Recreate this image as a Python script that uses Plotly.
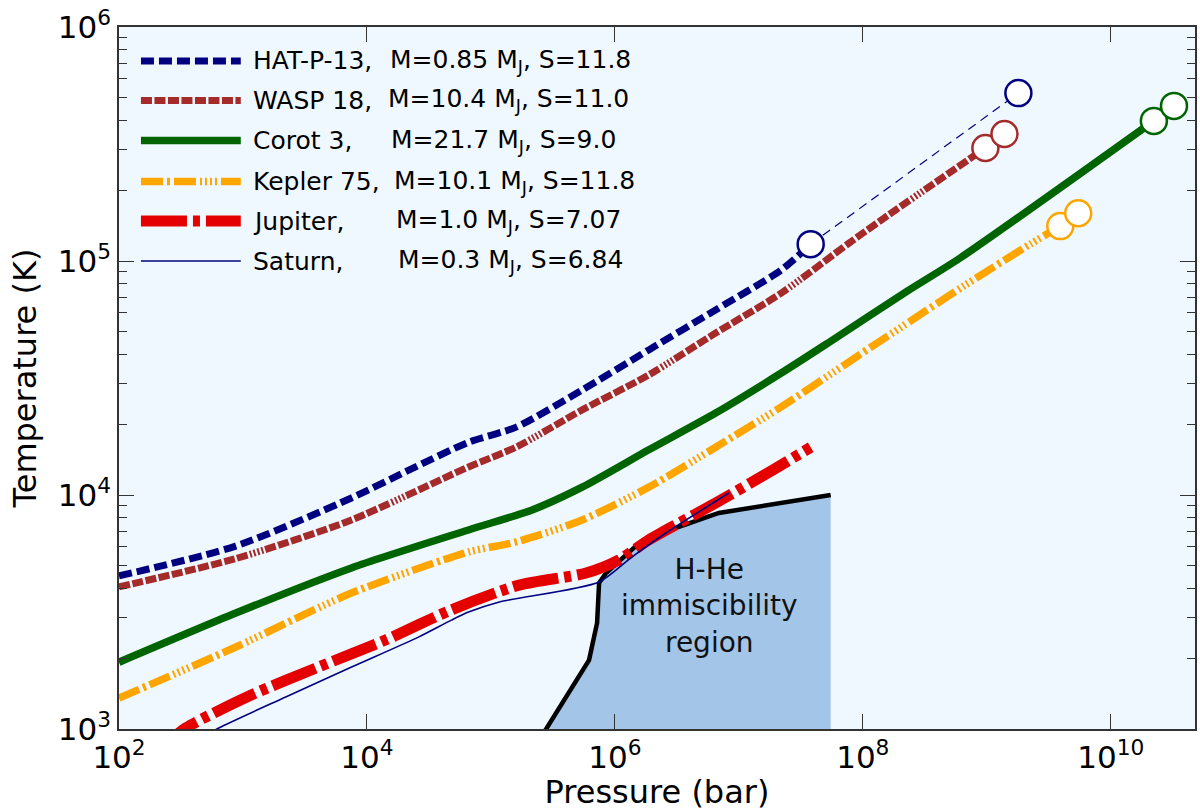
import plotly.graph_objects as go

# ---------------- data ----------------
hat_P = [1e2, 8.75e2, 7.5e3, 2.2e4, 6.6e4, 1.6e5, 5.45e5, 1.88e6, 6.5e6, 2.2e7, 3.8e7]
hat_T = [4510, 6050, 9710, 12800, 16800, 19500, 28100, 41700, 61800, 91500, 118000]
hat_ext_P = [3.8e7, 1.8e9]
hat_ext_T = [118000, 522000]

wasp_P = [1e2, 8.75e2, 7.5e3, 6.6e4, 1.6e5, 5.45e5, 1.88e6, 6.5e6, 2.2e7, 7.7e7, 1.42e8, 9.75e8]
wasp_T = [4050, 5350, 7820, 13180, 16030, 23100, 32600, 49200, 72900, 119000, 150000, 304000]
wasp_end_P = [9.75e8, 1.39e9]
wasp_end_T = [304000, 349000]

corot_P = [1e2, 8.75e2, 7.5e3, 6.6e4, 2.15e5, 5.45e5, 1.88e6, 6.5e6, 2.2e7, 5.2e7, 2.3e8, 6.1e8, 2.23e10]
corot_T = [1930, 3130, 4880, 7090, 8630, 10800, 15600, 22400, 33200, 44500, 74500, 103000, 397000]
corot_end_P = [2.23e10, 3.24e10]
corot_end_T = [397000, 460000]

kep_P = [1e2, 8.75e2, 7.5e3, 6.6e4, 1.6e5, 5.45e5, 1.88e6, 6.5e6, 2.2e7, 7.7e7, 1.42e8, 6.7e8, 2.3e9, 3.92e9]
kep_T = [1355, 2240, 3810, 5710, 6300, 7820, 10800, 16000, 23800, 37000, 45900, 78900, 119000, 141000]
kep_end_P = [3.92e9, 5.47e9]
kep_end_T = [141000, 160000]

jup_P = [214, 346, 1178, 4074, 1.41e4, 4.8e4, 1.69e5, 5.86e5, 1.08e6, 1.88e6, 6.5e6, 1.75e7, 3.8e7]
jup_T = [822, 1010, 1400, 1840, 2400, 3230, 4120, 4640, 5280, 6430, 9240, 12500, 16000]

sat_P = [409, 638, 2213, 7520, 2.6e4, 4.8e4, 6.6e4, 1.17e5, 7.46e5, 1.37e6, 2.58e6, 8.3e6]
sat_T = [880, 1010, 1370, 1840, 2470, 2920, 3160, 3490, 4250, 5430, 6880, 10200]

immisc_P = [2.3e5, 2.79e5, 6.19e5, 7.19e5, 7.46e5, 8.49e5, 1.57e6, 2.15e6, 4.76e6, 6.9e6, 5.51e7]
immisc_T = [855, 1000, 1970, 2840, 4210, 4640, 6230, 6750, 7820, 8380, 10000]

names = ["HAT-P-13,", "WASP 18,", "Corot 3,", "Kepler 75,", "Jupiter,", "Saturn,"]
params = ["M=0.85 M<sub>J</sub>, S=11.8", "M=10.4 M<sub>J</sub>, S=11.0",
          "M=21.7 M<sub>J</sub>, S=9.0", "M=10.1 M<sub>J</sub>, S=11.8",
          "M=1.0 M<sub>J</sub>, S=7.07", "M=0.3 M<sub>J</sub>, S=6.84"]

x_tickvals = [1e2, 1e4, 1e6, 1e8, 1e10]
x_ticktext = ["10<sup>2</sup>", "10<sup>4</sup>", "10<sup>6</sup>", "10<sup>8</sup>", "10<sup>10</sup>"]
y_tickvals = [1e3, 1e4, 1e5, 1e6]
y_ticktext = ["10<sup>3</sup>", "10<sup>4</sup>", "10<sup>5</sup>", "10<sup>6</sup>"]

# ---------------- styles ----------------
NAVY, BROWN, GREEN, ORANGE, RED = "#000080", "#a52a2a", "#006400", "#ffa500", "#e50000"
brown_dash = ",".join(["11px,2.5px"] * 10 + ["2px,2px"] * 4)
orange_dash = "22px,4px,3px,4px,22px,4px,2px,3px,2px,3px,2px,3px,2px,4px"
red_dash = "46px,6px,7px,6px"
navy_dash = "13px,5px"

styles = [
    dict(color=NAVY, width=7, dash=navy_dash),
    dict(color=BROWN, width=7, dash=brown_dash),
    dict(color=GREEN, width=7.5, dash="solid"),
    dict(color=ORANGE, width=7.5, dash=orange_dash),
    dict(color=RED, width=11, dash=red_dash),
    dict(color=NAVY, width=1.6, dash="solid"),
]

fig = go.Figure()

# immiscibility region
fig.add_trace(go.Scatter(x=immisc_P + [immisc_P[-1], immisc_P[0]],
                         y=immisc_T + [800, 800],
                         fill="toself", fillcolor="#a3c5e7", mode="none",
                         hoverinfo="skip", showlegend=False))
fig.add_trace(go.Scatter(x=immisc_P, y=immisc_T, mode="lines",
                         line=dict(color="black", width=4.5), showlegend=False))

def add_line(P, T, st, shape="spline"):
    fig.add_trace(go.Scatter(x=P, y=T, mode="lines", line_shape=shape,
                             line=dict(color=st["color"], width=st["width"], dash=st["dash"]),
                             line_smoothing=0.7, showlegend=False))

add_line(corot_P, corot_T, styles[2])
add_line(kep_P, kep_T, styles[3])
add_line(wasp_P, wasp_T, styles[1])
add_line(hat_P, hat_T, styles[0])
fig.add_trace(go.Scatter(x=hat_ext_P, y=hat_ext_T, mode="lines",
                         line=dict(color=NAVY, width=1.2, dash="9px,6px"), showlegend=False))
add_line(jup_P, jup_T, styles[4])
add_line(sat_P, sat_T, styles[5])

def add_markers(P, T, color):
    fig.add_trace(go.Scatter(x=P, y=T, mode="markers",
                             marker=dict(symbol="circle", size=26, color="white",
                                         line=dict(color=color, width=2.5)),
                             showlegend=False))

add_markers([hat_P[-1], hat_ext_P[-1]], [hat_T[-1], hat_ext_T[-1]], NAVY)
add_markers(wasp_end_P, wasp_end_T, BROWN)
add_markers(corot_end_P, corot_end_T, GREEN)
add_markers(kep_end_P, kep_end_T, ORANGE)

# ---------------- manual legend ----------------
PL, PR, PT, PB = 119, 1197, 27, 729
def px_x(p): return (p - PL) / (PR - PL)
def px_y(p): return (PB - p) / (PB - PT)

row_y = [61, 100.5, 140.5, 181.5, 221, 261]
param_x = [389, 386, 390, 393, 395, 397]
shapes = []
annotations = []
for i, st in enumerate(styles):
    yy = px_y(row_y[i])
    shapes.append(dict(type="line", xref="paper", yref="paper",
                       x0=px_x(141), x1=px_x(241), y0=yy, y1=yy,
                       line=dict(color=st["color"], width=st["width"], dash=st["dash"])))
    annotations.append(dict(xref="paper", yref="paper", x=px_x(251), y=yy,
                            xanchor="left", yanchor="middle", showarrow=False,
                            text=names[i], font=dict(size=25, color="black")))
    annotations.append(dict(xref="paper", yref="paper", x=px_x(param_x[i]), y=yy,
                            xanchor="left", yanchor="middle", showarrow=False,
                            text=params[i], font=dict(size=25, color="black")))

annotations.append(dict(xref="paper", yref="paper", x=px_x(711), y=px_y(606),
                        xanchor="center", yanchor="middle", showarrow=False,
                        text="H-He<br>immiscibility<br>region",
                        font=dict(size=28, color="#111111")))

fig.update_layout(
    width=1200, height=811,
    margin=dict(l=PL, r=1200 - PR, t=PT, b=811 - PB),
    paper_bgcolor="white", plot_bgcolor="#f0f8ff",
    font=dict(family="DejaVu Sans", color="black"),
    shapes=shapes, annotations=annotations, showlegend=False,
)
fig.update_xaxes(type="log", range=[2, 10.68], tickvals=x_tickvals, ticktext=x_ticktext,
                 ticks="inside", ticklen=15, tickwidth=1.3, tickcolor="#333",
                 showline=True, linecolor="#333", linewidth=1.5, mirror="allticks",
                 showgrid=False, zeroline=False, tickfont=dict(size=31),
                 title=dict(text="Pressure (bar)", font=dict(size=32), standoff=6))
fig.update_yaxes(type="log", range=[3, 6], tickvals=y_tickvals, ticktext=y_ticktext,
                 ticks="inside", ticklen=15, tickwidth=1.3, tickcolor="#333",
                 showline=True, linecolor="#333", linewidth=1.5, mirror="allticks",
                 showgrid=False, zeroline=False, tickfont=dict(size=31),
                 minor=dict(ticks="inside", ticklen=8, tickwidth=1, tickcolor="#333",
                            dtick="D1", showgrid=False),
                 title=dict(text="Temperature (K)", font=dict(size=32), standoff=12))

fig.write_html("out.html")
